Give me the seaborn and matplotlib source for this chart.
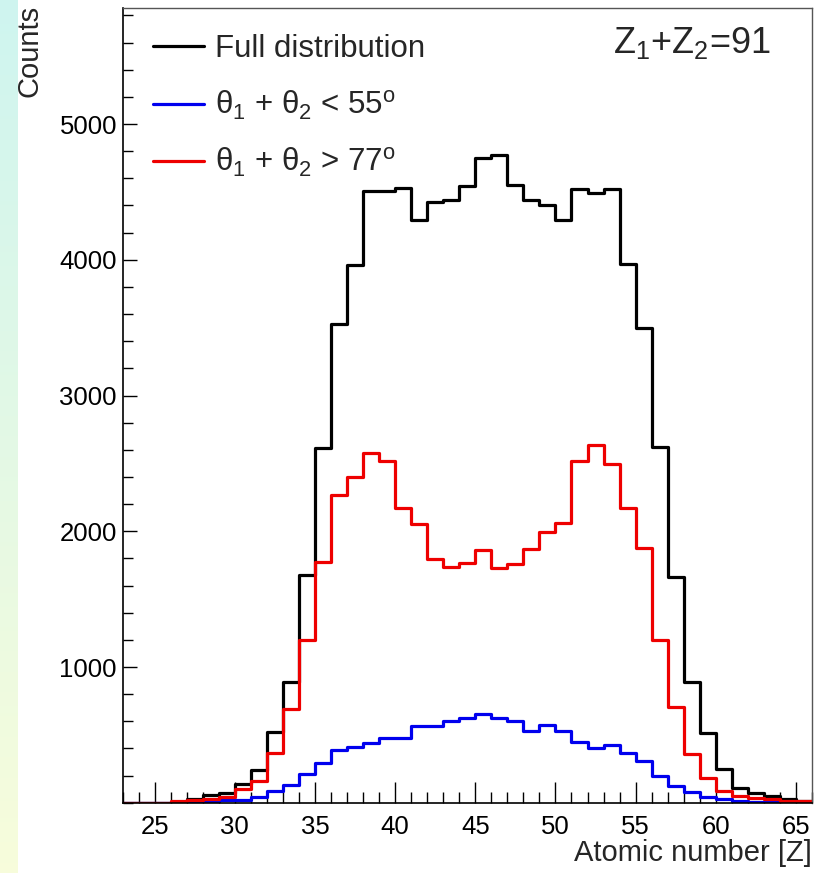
import numpy as np
import pandas as pd
import matplotlib
matplotlib.use("Agg")
import matplotlib.pyplot as plt
from matplotlib.ticker import MultipleLocator, FixedLocator
import seaborn as sns

# Unit-wide bins in atomic number Z: left edges 23 ... 65
z_left = list(range(23, 66))

full_counts = [0, 0, 0, 5, 28, 55, 74, 140, 241, 524,
               892, 1678, 2610, 3527, 3958, 4504, 4504, 4529, 4290, 4423,
               4443, 4546, 4750, 4775, 4552, 4437, 4404, 4296, 4519, 4492,
               4519, 3967, 3500, 2618, 1664, 892, 511, 246, 110, 75,
               50, 27, 12]
small_angle_counts = [0, 0, 0, 0, 2, 8, 20, 22, 42, 85,
                      130, 212, 295, 385, 408, 438, 475, 475, 566, 566,
                      605, 628, 657, 624, 605, 530, 570, 530, 450, 405,
                      425, 369, 310, 194, 122, 80, 42, 28, 15, 8,
                      5, 2, 0]
large_angle_counts = [0, 0, 0, 13, 20, 27, 40, 99, 160, 364,
                      688, 1199, 1770, 2267, 2397, 2579, 2517, 2169, 2053, 1793,
                      1739, 1764, 1862, 1729, 1758, 1869, 1995, 2059, 2520, 2638,
                      2497, 2168, 1878, 1197, 705, 362, 180, 89, 50, 35,
                      24, 15, 10]

series_labels = ["Full distribution",
                 "θ$_1$ + θ$_2$ < 55$^{\\rm o}$",
                 "θ$_1$ + θ$_2$ > 77$^{\\rm o}$"]
x_ticks = [25, 30, 35, 40, 45, 50, 55, 60, 65]
y_ticks = [1000, 2000, 3000, 4000, 5000]

sns.set_theme(style="ticks")
plt.rcParams["font.family"] = ["Liberation Sans", "DejaVu Sans"]
plt.rcParams["mathtext.fontset"] = "custom"
plt.rcParams["mathtext.rm"] = "Liberation Sans"
plt.rcParams["mathtext.it"] = "Liberation Sans"

df = pd.DataFrame({
    "Z": np.array(z_left) + 0.5,
    "full": full_counts,
    "small": small_angle_counts,
    "large": large_angle_counts,
})
edges = [float(e) for e in range(z_left[0], z_left[-1] + 2)]

fig = plt.figure(figsize=(8.15, 8.73), dpi=100)
fig.patch.set_facecolor("white")

# pale gradient strip along the left border
strip = fig.add_axes([0, 0, 18 / 815, 1])
grad = np.linspace(0, 1, 256)[:, None, None]
top_c = np.array([0.81, 0.96, 0.94])
bot_c = np.array([0.97, 0.99, 0.86])
strip.imshow(top_c * (1 - grad) + bot_c * grad, aspect="auto", extent=[0, 1, 0, 1])
strip.set_axis_off()

ax = fig.add_axes([122.5 / 815, 1 - 802.75 / 873, (812 - 122.5) / 815, (802.75 - 8) / 873])

lw = 2.3
for col, color, label in [("full", "black", series_labels[0]),
                          ("small", "#0000ee", series_labels[1]),
                          ("large", "#ee0000", series_labels[2])]:
    sns.histplot(data=df, x="Z", weights=col, bins=edges, element="step",
                 fill=False, color=color, linewidth=lw, label=label, ax=ax)

ax.set_xlim(23, 66)
ax.set_ylim(0, 5855)
ax.xaxis.set_major_locator(FixedLocator(x_ticks))
ax.xaxis.set_minor_locator(MultipleLocator(1))
ax.yaxis.set_major_locator(FixedLocator(y_ticks))
ax.yaxis.set_minor_locator(MultipleLocator(200))

ax.tick_params(axis="both", which="both", direction="in", top=False, right=False,
               colors="black", labelsize=18.5)
ax.tick_params(axis="x", which="major", length=15, width=1, pad=9)
ax.tick_params(axis="x", which="minor", length=8, width=1)
ax.tick_params(axis="y", which="major", length=10, width=1, pad=4)
ax.tick_params(axis="y", which="minor", length=7.5, width=1)

for side in ["left", "bottom"]:
    ax.spines[side].set_color("black")
    ax.spines[side].set_linewidth(1.2)
for side in ["top", "right"]:
    ax.spines[side].set_color("#555555")
    ax.spines[side].set_linewidth(1.0)

ax.set_xlabel("Atomic number [Z]", fontsize=21, loc="right")
ax.xaxis.set_label_coords(1.0, -0.046)
ax.set_ylabel("Counts", fontsize=21, loc="top")
ax.yaxis.set_label_coords(-0.115, 1.004)

ax.text(0.712, 0.9434, "Z$_1$+Z$_2$=91", transform=ax.transAxes,
        fontsize=26, ha="left", va="baseline")

leg = ax.legend(loc="upper left", bbox_to_anchor=(0.044, 0.967), frameon=False,
                fontsize=22.5, handlelength=1.65, handletextpad=0.35,
                labelspacing=0.78, borderpad=0, borderaxespad=0)

fig.savefig("out.png", dpi=100, facecolor="white")
